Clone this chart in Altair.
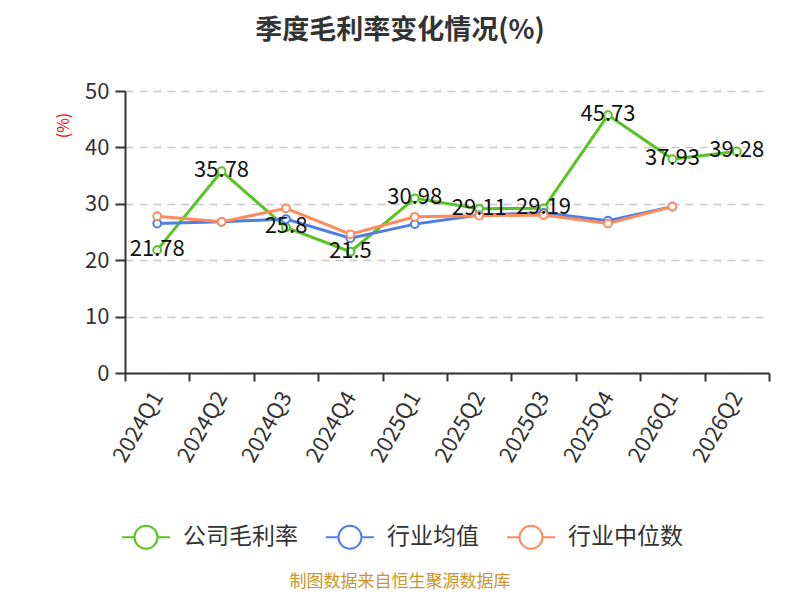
import altair as alt
import pandas as pd

categories = ["2024Q1", "2024Q2", "2024Q3", "2024Q4", "2025Q1", "2025Q2",
              "2025Q3", "2025Q4", "2026Q1", "2026Q2"]
company = [21.78, 35.78, 25.8, 21.5, 30.98, 29.11, 29.19, 45.73, 37.93, 39.28]
industry_avg = [26.5, 26.8, 27.3, 23.9, 26.4, 28.0, 28.4, 27.0, 29.5, None]
industry_median = [27.8, 26.8, 29.2, 24.6, 27.7, 27.9, 28.0, 26.5, 29.5, None]

series_names = ["公司毛利率", "行业均值", "行业中位数"]
series_colors = ["#58c322", "#4d7fe3", "#ff8b5c"]
title_text = "季度毛利率变化情况(%)"
footer_text = "制图数据来自恒生聚源数据库"

rows = []
for name, vals in zip(series_names, [company, industry_avg, industry_median]):
    for c, v in zip(categories, vals):
        if v is not None:
            rows.append({"季度": c, "系列": name, "值": v})
df = pd.DataFrame(rows)
company_df = df[df["系列"] == series_names[0]]

FONT = "Noto Sans CJK SC"

x_enc = alt.X("季度:N", sort=categories,
              scale=alt.Scale(type="band", domain=categories, paddingInner=0, paddingOuter=0),
              axis=alt.Axis(title=None, labelAngle=-60, labelAlign="right", labelBaseline="middle",
                            labelFontSize=22, labelColor="#333333", labelFont=FONT,
                            labelPadding=12, tickSize=8, tickColor="#333333", tickWidth=2,
                            tickBand="extent", domainColor="#333333", domainWidth=2,
                            grid=False))
y_enc = alt.Y("值:Q", scale=alt.Scale(domain=[0, 50], nice=False, zero=True),
              axis=alt.Axis(title="(%)", titleColor="#ff0000", titleFontSize=16,
                            titleFontWeight="normal", titleFont=FONT,
                            titleAngle=-90, titleX=-62, titleY=34,
                            titleAlign="center", titleBaseline="middle",
                            values=[0, 10, 20, 30, 40, 50],
                            labelFontSize=22, labelColor="#333333", labelFont=FONT,
                            labelPadding=6, tickSize=10, tickColor="#333333", tickWidth=2,
                            domainColor="#333333", domainWidth=2,
                            grid=True, gridColor="#c8c8c8", gridDash=[8, 6], gridWidth=1.5))

color_scale = alt.Scale(domain=series_names, range=series_colors)

legend = alt.Legend(title=None, orient="none", legendX=-4, legendY=421, direction="horizontal",
                    symbolType="M-1,0L-0.48,0M0.48,0L1,0M-0.48,0A0.48,0.48,0,1,1,0.48,0A0.48,0.48,0,1,1,-0.48,0",
                    symbolSize=2304, symbolStrokeWidth=2, symbolFillColor="white",
                    labelFontSize=23, labelColor="#333333", labelFont=FONT,
                    labelOffset=12, columnPadding=24)

base = alt.Chart(df)

lines = base.mark_line(strokeWidth=3).encode(
    x=x_enc, y=y_enc,
    color=alt.Color("系列:N", scale=color_scale, legend=legend),
)
points = base.mark_point(filled=True, fill="white", size=60, strokeWidth=2, opacity=1).encode(
    x=alt.X("季度:N", sort=categories), y="值:Q",
    stroke=alt.Stroke("系列:N", scale=color_scale, legend=None),
)
labels = alt.Chart(company_df).mark_text(fontSize=22, font=FONT, color="#111111",
                                         baseline="middle", align="center", dy=-1).encode(
    x=alt.X("季度:N", sort=categories), y="值:Q", text=alt.Text("值:Q"),
)
title = alt.Chart(pd.DataFrame({"t": [title_text]})).mark_text(
    fontSize=27, fontWeight="bold", font=FONT, color="#333333", baseline="middle", align="center"
).encode(x=alt.value(275), y=alt.value(-60), text="t:N")
footer = alt.Chart(pd.DataFrame({"t": [footer_text]})).mark_text(
    fontSize=17, font=FONT, color="#c8962a", baseline="middle", align="center"
).encode(x=alt.value(275), y=alt.value(491), text="t:N")

chart = alt.layer(lines, points, labels, title, footer).properties(
    width=644, height=282,
    autosize=alt.AutoSizeParams(type="none"),
    padding={"left": 117, "top": 83, "right": 23, "bottom": 219},
).configure_view(stroke=None).resolve_scale(stroke="shared")

chart.save("out.html", embed_options={"renderer": "svg", "actions": False})
